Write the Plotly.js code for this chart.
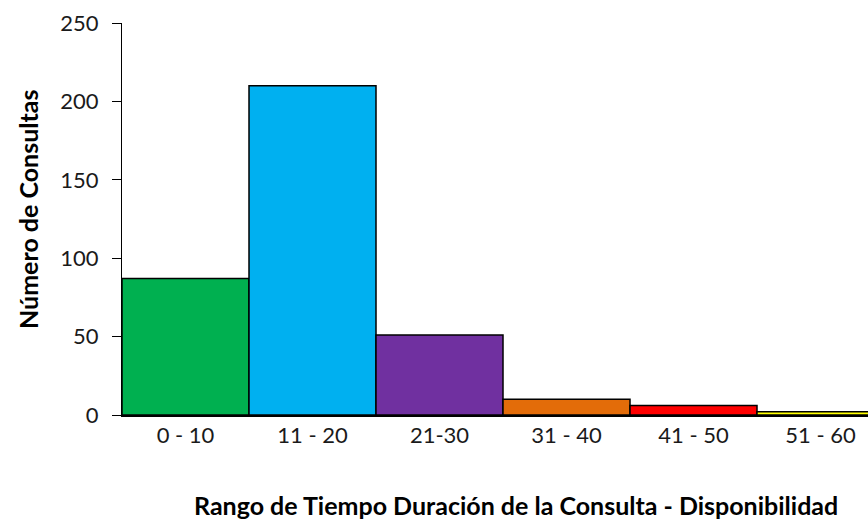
<!DOCTYPE html>
<html><head><meta charset="utf-8">
<script src="https://cdn.plot.ly/plotly-3.0.1.min.js"></script>
<style>body{margin:0;background:#fff}#c{width:868px;height:519px}</style>
</head><body><div id="c"></div>
<script>
const categories = ["0 - 10", "11 - 20", "21-30", "31 - 40", "41 - 50", "51 - 60"];
const values = [87, 210, 51, 10, 6, 2];
const colors = ["#00B050", "#00B0F0", "#7030A0", "#E36C09", "#FF0000", "#FFFF00"];
const yTicks = [0, 50, 100, 150, 200, 250];
const xTitle = "Rango de Tiempo Duración de la Consulta - Disponibilidad";
const yTitle = "Número de Consultas";

const font = "Lato, 'Open Sans', sans-serif";
Plotly.newPlot("c", [{
  type: "bar",
  x: categories,
  y: values,
  marker: {color: colors, line: {color: "#000", width: 1.5}},
  hoverinfo: "none"
}], {
  width: 868, height: 519,
  margin: {l: 122, r: 0, t: 23, b: 104},
  bargap: 0,
  paper_bgcolor: "#fff", plot_bgcolor: "#fff",
  showlegend: false,
  font: {family: font, color: "#000", size: 22},
  xaxis: {
    type: "category",
    range: [-0.5, 5.374],
    showline: true, linecolor: "#000", linewidth: 2,
    ticks: "", showgrid: false, zeroline: false,
    tickfont: {size: 22, color: "#1a1a1a"}
  },
  yaxis: {
    range: [0, 250],
    tickvals: yTicks,
    showline: true, linecolor: "#000", linewidth: 1,
    ticks: "outside", ticklen: 9, tickcolor: "#000", tickwidth: 1,
    showgrid: false, zeroline: false,
    tickfont: {size: 22, color: "#1a1a1a"},
    ticklabelstandoff: 9
  },
  annotations: [
    {text: "<b>" + xTitle + "</b>", xref: "paper", yref: "paper",
     x: (516 - 122) / 746, y: 0, xanchor: "center", yanchor: "middle",
     yshift: -90, showarrow: false, font: {size: 25, color: "#000"}},
    {text: "<b>" + yTitle + "</b>", xref: "paper", yref: "paper",
     x: 0, y: (415 - 210) / 392, xanchor: "center", yanchor: "middle",
     xshift: -94, textangle: -90, showarrow: false, font: {size: 25, color: "#000"}}
  ]
}, {staticPlot: true});
</script></body></html>
